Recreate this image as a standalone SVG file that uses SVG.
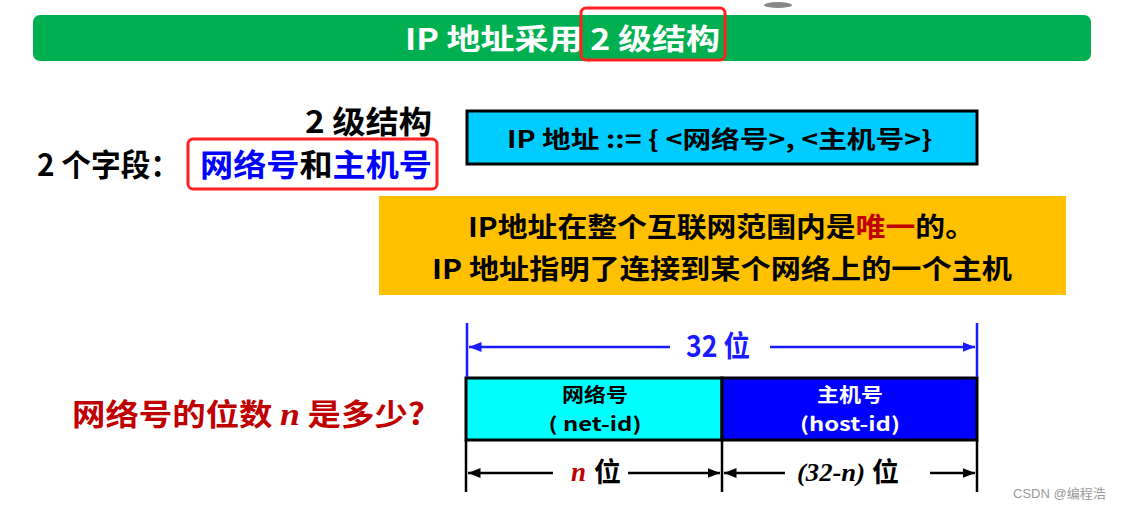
<svg xmlns="http://www.w3.org/2000/svg" width="1128" height="510" viewBox="0 0 1128 510">
<style>
text{font-family:"Liberation Sans","Noto Sans CJK SC",sans-serif;font-weight:bold}
.cjk{font-family:"Noto Sans CJK SC","Liberation Sans",sans-serif;font-weight:bold}
.it{font-family:"Liberation Serif","Times New Roman",serif;font-style:italic;font-weight:bold}
.box{stroke:#000;stroke-width:3}
.red{fill:none;stroke:#ff2020;stroke-width:3}
.blk{stroke:#000;stroke-width:2.5}
.blu{stroke:#1a1aff;stroke-width:2.5}
</style>
<defs>
<marker id="ab" viewBox="0 0 10 10" refX="10" refY="5" markerWidth="5" markerHeight="5" orient="auto-start-reverse" markerUnits="strokeWidth"><path d="M0,1 L10,5 L0,9 z" fill="#000"/></marker>
<marker id="au" viewBox="0 0 10 10" refX="10" refY="5" markerWidth="5" markerHeight="5" orient="auto-start-reverse" markerUnits="strokeWidth"><path d="M0,1 L10,5 L0,9 z" fill="#1a1aff"/></marker>
</defs>
<rect width="1128" height="510" fill="#fff"/>
<ellipse cx="778" cy="5" rx="14" ry="3" fill="#555" opacity="0.7"/>
<g id="title">
<rect x="33" y="15" width="1058" height="46" rx="7" fill="#00b050"/>
<text class="cjk" x="405" y="50" font-size="29" fill="#fff" textLength="315" lengthAdjust="spacingAndGlyphs">IP 地址采用 2 级结构</text>
<rect class="red" x="581" y="8" width="144" height="52" rx="5"/>
</g>
<g id="fields">
<text class="cjk" x="305" y="133" font-size="31" fill="#000" textLength="127" lengthAdjust="spacingAndGlyphs">2 级结构</text>
<text class="cjk" x="37" y="176" font-size="31" fill="#000" textLength="143" lengthAdjust="spacingAndGlyphs">2 个字段：</text>
<text class="cjk" x="200" y="176" font-size="31" fill="#0000ff" textLength="232" lengthAdjust="spacingAndGlyphs">网络号<tspan fill="#000">和</tspan>主机号</text>
<rect class="red" x="188" y="139" width="249" height="50" rx="5"/>
</g>
<g id="definition">
<rect class="box" x="467" y="111" width="510" height="53" fill="#00ccff"/>
<text class="cjk" x="507" y="148" font-size="24" fill="#000" textLength="425" lengthAdjust="spacingAndGlyphs">IP 地址 ::= { &lt;网络号&gt;, &lt;主机号&gt;}</text>
</g>
<g id="note">
<rect x="379" y="196" width="687" height="99" fill="#ffc000"/>
<text class="cjk" x="468" y="237" font-size="27" fill="#000" textLength="507" lengthAdjust="spacingAndGlyphs">IP地址在整个互联网范围内是<tspan fill="#c00000">唯一</tspan>的。</text>
<text class="cjk" x="432" y="279" font-size="27" fill="#000" textLength="580" lengthAdjust="spacingAndGlyphs">IP 地址指明了连接到某个网络上的一个主机</text>
</g>
<g id="question">
<text class="cjk" x="72" y="425" font-size="30" fill="#c00000" textLength="353" lengthAdjust="spacingAndGlyphs">网络号的位数 <tspan class="it" font-size="32">n</tspan> 是多少?</text>
</g>
<g id="netid">
<rect class="box" x="466" y="378" width="256" height="62" fill="#00ffff"/>
<text class="cjk" x="595" y="402" font-size="19" fill="#000" text-anchor="middle" textLength="66" lengthAdjust="spacingAndGlyphs">网络号</text>
<text class="cjk" x="595" y="431" font-size="19" fill="#000" text-anchor="middle" textLength="93" lengthAdjust="spacingAndGlyphs">( net-id)</text>
</g>
<g id="hostid">
<rect class="box" x="722" y="378" width="255" height="62" fill="#0000ff"/>
<text class="cjk" x="850" y="402" font-size="19" fill="#fff" text-anchor="middle" textLength="66" lengthAdjust="spacingAndGlyphs">主机号</text>
<text class="cjk" x="850" y="431" font-size="19" fill="#fff" text-anchor="middle" textLength="100" lengthAdjust="spacingAndGlyphs">(host-id)</text>
</g>
<g id="connectors">
<line class="blu" x1="467" y1="323" x2="467" y2="377"/>
<line class="blu" x1="977" y1="323" x2="977" y2="377"/>
<line class="blu" x1="469" y1="347" x2="670" y2="347" marker-start="url(#au)"/>
<line class="blu" x1="770" y1="347" x2="975" y2="347" marker-end="url(#au)"/>
<line class="blk" x1="466" y1="440" x2="466" y2="492"/>
<line class="blk" x1="722" y1="440" x2="722" y2="492"/>
<line class="blk" x1="977" y1="440" x2="977" y2="492"/>
<line class="blk" x1="468" y1="473" x2="553" y2="473" marker-start="url(#ab)"/>
<line class="blk" x1="628" y1="473" x2="720" y2="473" marker-end="url(#ab)"/>
<line class="blk" x1="724" y1="473" x2="785" y2="473" marker-start="url(#ab)"/>
<line class="blk" x1="930" y1="473" x2="975" y2="473" marker-end="url(#ab)"/>
</g>
<g id="labels">
<text class="cjk" x="686" y="357" font-size="29" fill="#1a1aff" textLength="64" lengthAdjust="spacingAndGlyphs">32 位</text>
<text class="it" x="571" y="481" font-size="27" fill="#c00000">n</text>
<text class="cjk" x="594" y="482" font-size="27" fill="#000">位</text>
<text class="it" x="797" y="481" font-size="25" fill="#000" textLength="68" lengthAdjust="spacingAndGlyphs">(32-n)</text>
<text class="cjk" x="872" y="482" font-size="27" fill="#000">位</text>
</g>
<text x="1013" y="498" font-size="13" fill="#999" style="font-weight:normal;font-family:'Liberation Sans','Noto Sans CJK SC',sans-serif">CSDN @编程浩</text>
</svg>
